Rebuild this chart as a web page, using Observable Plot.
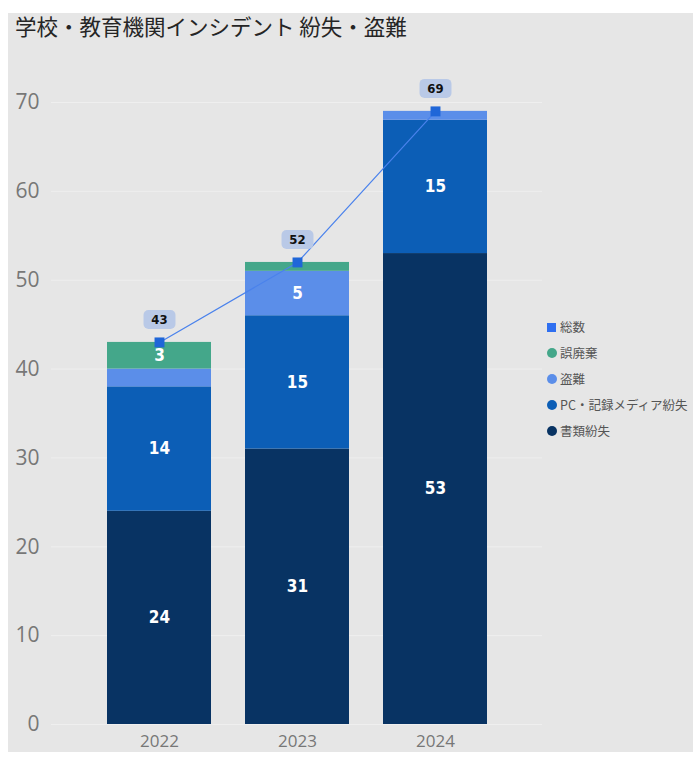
<!DOCTYPE html>
<html><head><meta charset="utf-8">
<script src="https://cdn.jsdelivr.net/npm/d3@7"></script>
<script src="https://cdn.jsdelivr.net/npm/@observablehq/plot@0.6"></script>
<style>
body{margin:0;background:#fff;font-family:"Noto Sans CJK JP","Open Sans",sans-serif;}
#panel{position:absolute;left:8px;top:13px;width:685px;height:739px;background:#e6e6e6;}
#title{position:absolute;left:7px;top:0px;font-size:21.5px;line-height:26px;color:#252525;white-space:nowrap;}
#chart{position:absolute;left:0;top:37px;}
#legend{position:absolute;left:539px;top:301px;font-size:12.5px;color:#555;}
.item{height:26px;line-height:26px;display:flex;align-items:center;white-space:nowrap;}
.mk{display:inline-block;width:10px;height:10px;border-radius:50%;margin-right:3px;}
.sq{border-radius:0;width:9px;height:9px;margin-right:4px;}
</style></head>
<body>
<div id="panel">
  <div id="title">学校・教育機関インシデント 紛失・盗難</div>
  <div id="chart"></div>
  <div id="legend"></div>
</div>
<script>
const years = ["2022", "2023", "2024"];
const seriesNames = ["書類紛失", "PC・記録メディア紛失", "盗難", "誤廃棄"];
const shorui = [24, 31, 53];
const pcMedia = [14, 15, 15];
const tonan = [2, 5, 1];
const gohaiki = [3, 1, 0];
const totals = [43, 52, 69];
const totalName = "総数";
const colors = ["#083363", "#0c5eb6", "#5b8ee9", "#44a78a"];
const totalColor = "#1f66d8";
const yTicks = [0, 10, 20, 30, 40, 50, 60, 70];

const seriesValues = [shorui, pcMedia, tonan, gohaiki];
const stacked = seriesNames.flatMap((s, si) => years.map((y, yi) => ({year: y, series: s, value: seriesValues[si][yi]})));
const totalData = years.map((y, i) => ({year: y, total: totals[i]}));

const roundBox = {
  draw(ctx) {
    const w = 32, h = 19, r = 5, x0 = -w / 2, y0 = -h / 2, x1 = w / 2, y1 = h / 2;
    ctx.moveTo(x0 + r, y0);
    ctx.arcTo(x1, y0, x1, y1, r);
    ctx.arcTo(x1, y1, x0, y1, r);
    ctx.arcTo(x0, y1, x0, y0, r);
    ctx.arcTo(x0, y0, x1, y0, r);
    ctx.closePath();
  }
};

const chart = Plot.plot({
  width: 685,
  height: 702,
  marginLeft: 43,
  marginRight: 151,
  marginTop: 52,
  marginBottom: 28,
  style: {background: "transparent", fontFamily: "'Open Sans', 'Noto Sans', sans-serif"},
  x: {type: "band", domain: years, paddingInner: 0.249, paddingOuter: 0.397, label: null},
  y: {domain: [0, 70], label: null},
  color: {domain: seriesNames, range: colors},
  marks: [
    Plot.gridY(yTicks, {stroke: "#efefef", strokeOpacity: 1}),
    Plot.axisY(yTicks, {tickSize: 0, tickPadding: 12, fontSize: 21, fill: "#777", label: null}),
    Plot.axisX({tickSize: 0, tickPadding: 10, fontSize: 17, fill: "#777", label: null}),
    Plot.barY(stacked, {x: "year", y: "value", fill: "series", order: seriesNames}),
    Plot.text(stacked, Plot.stackY({
      x: "year", y: "value", z: "series", order: seriesNames,
      text: d => d.value >= 3 ? String(d.value) : "",
      fill: "white", fontWeight: "bold", fontSize: 17,
      fontFamily: "'DejaVu Sans Condensed', 'DejaVu Sans', sans-serif"
    })),
    Plot.line(totalData, {x: "year", y: "total", stroke: "#4a82ec", strokeWidth: 1.2}),
    Plot.dot(totalData, {x: "year", y: "total", symbol: "square", r: 5.6, fill: totalColor, stroke: "none"}),
    Plot.dot(totalData, {x: "year", y: "total", symbol: roundBox, r: 5, fill: "#b9c9e7", stroke: "none", dy: -23}),
    Plot.text(totalData, {x: "year", y: "total", text: d => String(d.total), dy: -23, fill: "#111",
      fontWeight: "bold", fontSize: 13, fontFamily: "'DejaVu Sans Condensed', 'DejaVu Sans', sans-serif"})
  ]
});
document.getElementById("chart").appendChild(chart);

const legendItems = [{name: totalName, color: "#2f6ff0", sq: true}]
  .concat(seriesNames.map((s, i) => ({name: s, color: colors[i], sq: false})).reverse());
const lg = document.getElementById("legend");
for (const it of legendItems) {
  const row = document.createElement("div");
  row.className = "item";
  const m = document.createElement("span");
  m.className = "mk" + (it.sq ? " sq" : "");
  m.style.background = it.color;
  row.appendChild(m);
  row.appendChild(document.createTextNode(it.name));
  lg.appendChild(row);
}
</script>
</body></html>
